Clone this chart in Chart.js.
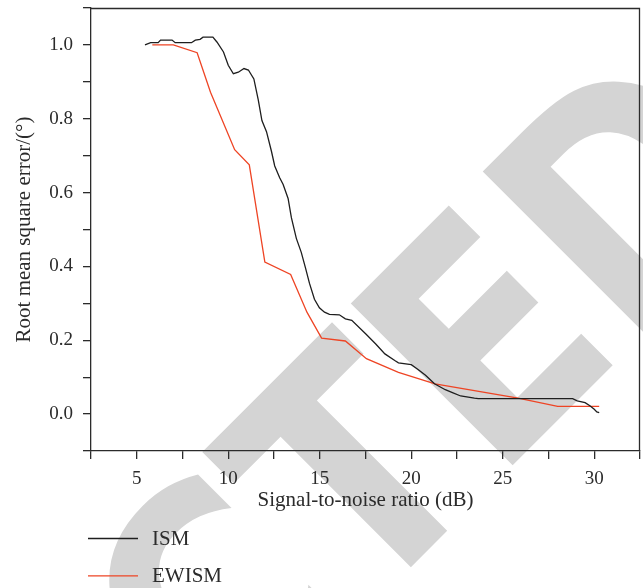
<!DOCTYPE html>
<html>
<head>
<meta charset="utf-8">
<script src="https://cdn.jsdelivr.net/npm/chart.js@4.4.0/dist/chart.umd.min.js"></script>
<style>
  html, body { margin: 0; padding: 0; background: #fff; }
  #wrap { width: 643px; height: 588px; }
</style>
</head>
<body>
<div id="wrap"><canvas id="rmse_chart" width="643" height="588"></canvas></div>
<script>
// values ---------------------------------------------
var ismSnr = [5.45, 5.76, 6.17, 6.30, 6.93, 7.10, 7.99, 8.20, 8.46, 8.62, 9.16, 9.38, 9.74, 10.00,
    10.28, 10.55, 10.86, 11.10, 11.40, 11.64, 11.84, 12.09, 12.36, 12.54, 12.81, 13.00, 13.27, 13.45,
    13.72, 13.99, 14.22, 14.44, 14.71, 14.98, 15.26, 15.53, 16.07, 16.40, 16.75, 17.52, 18.06, 18.56,
    19.10, 19.30, 20.00, 20.37, 20.78, 21.27, 21.86, 22.25, 22.70, 23.45, 23.66, 28.82, 29.07, 29.50,
    29.78, 30.00, 30.14, 30.27];
var ismRmse = [1.000, 1.006, 1.006, 1.013, 1.013, 1.006, 1.006, 1.013, 1.015, 1.021, 1.021, 1.008, 0.981, 0.945,
    0.922, 0.926, 0.936, 0.932, 0.908, 0.851, 0.795, 0.765, 0.712, 0.672, 0.640, 0.622, 0.584, 0.532,
    0.476, 0.438, 0.396, 0.354, 0.311, 0.288, 0.276, 0.270, 0.269, 0.258, 0.254, 0.217, 0.190, 0.163,
    0.145, 0.139, 0.134, 0.121, 0.105, 0.082, 0.066, 0.058, 0.049, 0.043, 0.042, 0.042, 0.036, 0.031,
    0.022, 0.013, 0.006, 0.004];

var ewismSnr = [5.85, 7.00, 8.30, 9.03, 10.35, 11.15, 12.00, 13.41, 14.30, 15.10, 16.40, 17.55, 19.30, 21.30, 25.84, 28.00, 30.27];
var ewismRmse = [1.000, 1.000, 0.979, 0.872, 0.716, 0.675, 0.412, 0.378, 0.276, 0.206, 0.198, 0.150, 0.113, 0.082, 0.043, 0.021, 0.021];

var seriesNames = ['ISM', 'EWISM'];
var seriesColors = ['#1e1e1e', '#ee4424'];

var xTitle = 'Signal-to-noise ratio (dB)';
var yTitle = 'Root mean square error/(\u00b0)';
var stampText = 'RETRACTED';

// utils ------------------------------
const toPoints = (xs, ys) => {
    let pts = [];
    for (let i = 0; i < xs.length; i++) pts.push({x: xs[i], y: ys[i]});
    return pts;
}

const serif = '"Liberation Serif", "Times New Roman", serif';
const ink = '#2b2b2b';

// grey stamp behind everything
const stampPlugin = {
    id: 'stamp',
    beforeDraw(chart) {
        const ctx = chart.ctx;
        ctx.save();
        ctx.font = 'bold 314px "DejaVu Sans", sans-serif';
        ctx.fillStyle = '#d4d4d4';
        ctx.textBaseline = 'alphabetic';
        ctx.textAlign = 'left';
        // anchor: left edge of the second E, on the baseline
        let off = ctx.measureText('RETRACT').width - ctx.measureText('E').actualBoundingBoxLeft;
        ctx.translate(510, 468);
        ctx.rotate(-Math.PI / 4);
        ctx.scale(0.87, 1);
        ctx.fillText(stampText, -off, 0);
        ctx.restore();
    }
};

// top and right edges of the frame
const framePlugin = {
    id: 'frame',
    beforeDatasetsDraw(chart) {
        const {ctx, chartArea: a} = chart;
        ctx.save();
        ctx.strokeStyle = ink;
        ctx.lineWidth = 1.3;
        ctx.beginPath();
        ctx.moveTo(a.left, a.top + 0.5);
        ctx.lineTo(a.right - 0.5, a.top + 0.5);
        ctx.lineTo(a.right - 0.5, a.bottom);
        ctx.stroke();
        ctx.restore();
    }
};

// stacked legend under the axis title
const stackLegend = {
    id: 'stackLegend',
    afterDraw(chart) {
        const ctx = chart.ctx;
        ctx.save();
        ctx.font = '21px ' + serif;
        ctx.textBaseline = 'middle';
        ctx.textAlign = 'left';
        chart.data.datasets.forEach((ds, i) => {
            let y = 538.5 + i * 37.3;
            ctx.strokeStyle = ds.borderColor;
            ctx.lineWidth = 1.3;
            ctx.beginPath();
            ctx.moveTo(88, y);
            ctx.lineTo(138, y);
            ctx.stroke();
            ctx.fillStyle = ink;
            ctx.fillText(ds.label, 152, y + 1);
        });
        ctx.restore();
    }
};

// no extra room for overhanging labels
const noPad = (scale) => {
    scale.paddingTop = 0;
    scale.paddingBottom = 0;
    scale.paddingLeft = 0;
    scale.paddingRight = 0;
}

var rmseChart = new Chart(document.getElementById('rmse_chart'), {
    type: 'line',
    data: {
        datasets: [
            {
                label: seriesNames[0],
                data: toPoints(ismSnr, ismRmse),
                borderColor: seriesColors[0],
                borderWidth: 1.3,
                pointRadius: 0,
                tension: 0,
                fill: false
            },
            {
                label: seriesNames[1],
                data: toPoints(ewismSnr, ewismRmse),
                borderColor: seriesColors[1],
                borderWidth: 1.3,
                pointRadius: 0,
                tension: 0,
                fill: false
            }
        ]
    },
    options: {
        responsive: false,
        animation: false,
        events: [],
        layout: {padding: {top: 8, right: 3, bottom: 67, left: 0}},
        plugins: {
            legend: {display: false},
            tooltip: {enabled: false}
        },
        scales: {
            x: {
                type: 'linear',
                min: 2.5,
                max: 32.5,
                afterFit(scale) { scale.height = 70; noPad(scale); },
                border: {color: ink, width: 1.3},
                grid: {drawOnChartArea: false, drawTicks: true, tickLength: 8, color: ink, lineWidth: 1.3},
                ticks: {
                    stepSize: 2.5,
                    autoSkip: false,
                    maxRotation: 0,
                    padding: 9,
                    color: ink,
                    font: {family: serif, size: 19},
                    callback: (v) => (Math.abs(v % 5) < 1e-6 && v > 3 && v < 32) ? String(v) : ''
                },
                title: {
                    display: true,
                    text: xTitle,
                    color: ink,
                    font: {family: serif, size: 21},
                    padding: {top: 0, bottom: 8}
                }
            },
            y: {
                type: 'linear',
                min: -0.1,
                max: 1.1,
                afterFit(scale) { scale.width = 91; noPad(scale); },
                border: {color: ink, width: 1.3},
                grid: {drawOnChartArea: false, drawTicks: true, tickLength: 8, color: ink, lineWidth: 1.3},
                ticks: {
                    stepSize: 0.1,
                    autoSkip: false,
                    padding: 10,
                    color: ink,
                    font: {family: serif, size: 19},
                    callback: (v) => {
                        let t = Math.round(v * 10);
                        return (t % 2 === 0 && t >= 0 && t <= 10) ? (t / 10).toFixed(1) : '';
                    }
                },
                title: {
                    display: true,
                    text: yTitle,
                    color: ink,
                    font: {family: serif, size: 21},
                    padding: {top: 12, bottom: 0}
                }
            }
        }
    },
    plugins: [stampPlugin, framePlugin, stackLegend]
});
</script>
</body>
</html>
